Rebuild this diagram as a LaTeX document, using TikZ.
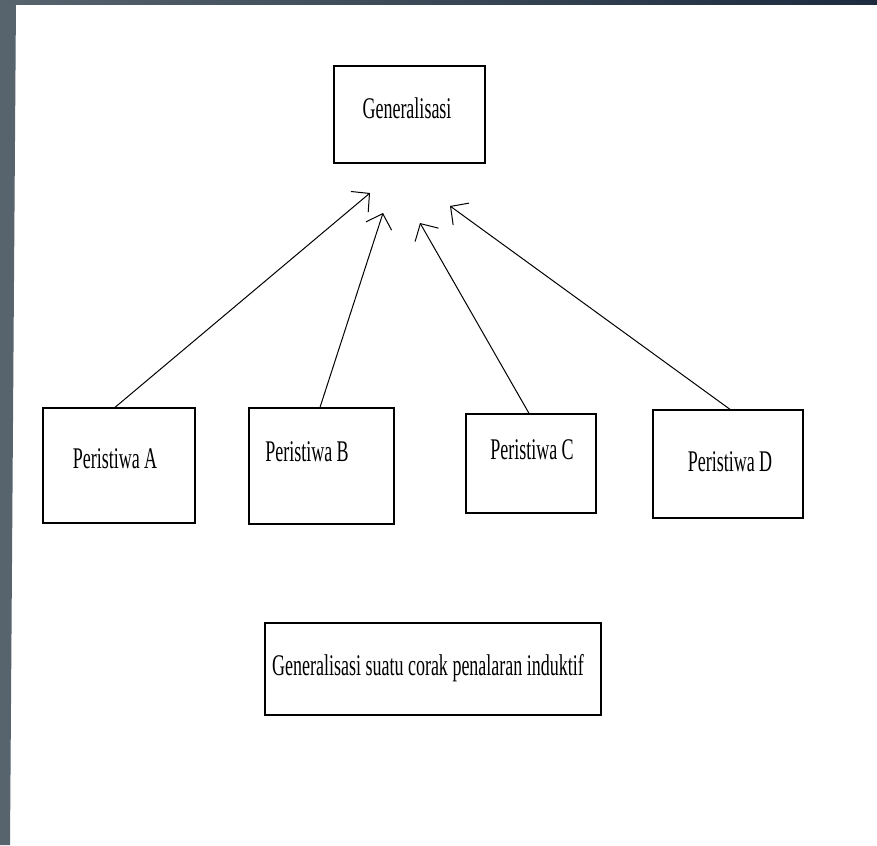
\documentclass[tikz,border=0pt]{standalone}
\usepackage{fontspec}
\usepackage{tikz}
\usetikzlibrary{arrows.meta}
\newfontfamily\narrowserif[FakeStretch=0.6]{Liberation Serif}
\definecolor{framegray}{RGB}{87,100,110}
\definecolor{framedark}{RGB}{28,43,62}

\begin{document}
\begin{tikzpicture}[
  x=1pt, y=-1pt,
  box/.style={draw, line width=1.3pt, inner sep=0pt},
  txt/.style={inner sep=0pt, font=\narrowserif\fontsize{30}{32}\selectfont},
  arr/.style={-{Straight Barb[length=13pt,width=27pt]}, line width=1pt}
]
\useasboundingbox (0,0) rectangle (877,845);
\fill[framegray] (0,0) -- (16,0) -- (10,845) -- (0,845) -- cycle;
\shade[left color=framegray, right color=framedark] (0,0) rectangle (877,5);

\node[box, minimum width=151pt, minimum height=97pt] (gen) at (409.5,114.5) {};
\node[box, minimum width=152pt, minimum height=115pt] (pa) at (119,465.5) {};
\node[box, minimum width=145pt, minimum height=116pt] (pb) at (321.5,466) {};
\node[box, minimum width=130pt, minimum height=99pt] (pc) at (531,463.5) {};
\node[box, minimum width=150pt, minimum height=108pt] (pd) at (728,464) {};
\node[box, minimum width=336pt, minimum height=92pt] (note) at (433,669) {};

\node[txt] (gentxt) at (407,108) {Generalisasi};
\node[txt] (patxt) at (115,459) {Peristiwa A};
\node[txt] (pbtxt) at (307,452) {Peristiwa B};
\node[txt] (pctxt) at (532,450) {Peristiwa C};
\node[txt] (pdtxt) at (730,462) {Peristiwa D};
\node[txt] (notetxt) at (428,668) {Generalisasi suatu corak penalaran induktif};

\coordinate (ta) at (370,193);
\coordinate (tb) at (383,213);
\coordinate (tc) at (420,223);
\coordinate (td) at (450,206);

\draw[arr] (pa.north -| 115,0) -- (ta);
\draw[arr] (pb.north -| 320,0) -- (tb);
\draw[arr] (pc.north -| 529,0) -- (tc);
\draw[arr] (pd.north -| 730,0) -- (td);
\end{tikzpicture}
\end{document}
